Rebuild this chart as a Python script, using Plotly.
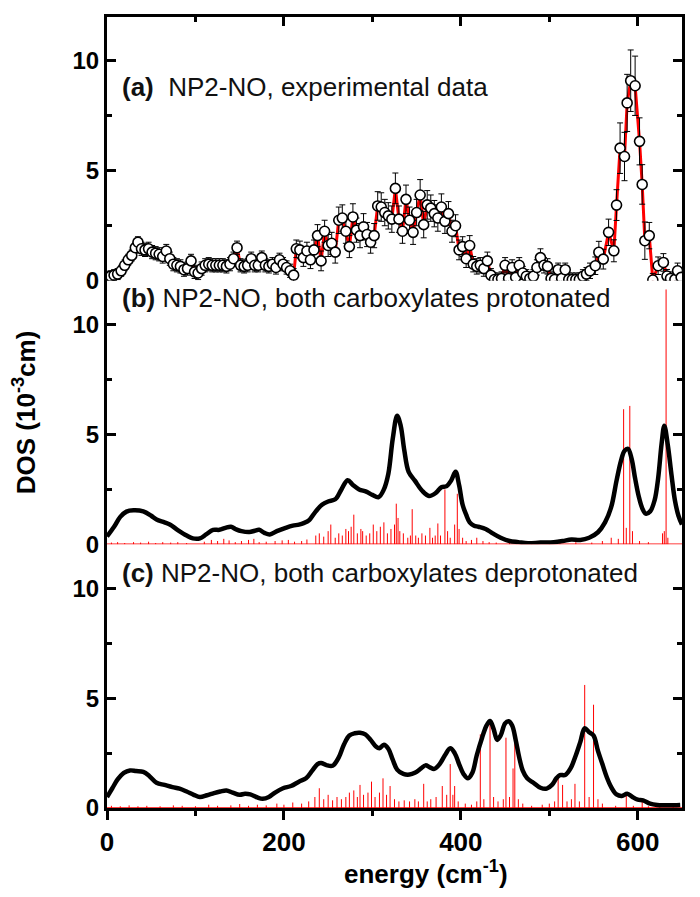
import plotly.graph_objects as go

# ---------------- data ----------------
# (a) experimental NRVS DOS
E_a = [0, 4, 8, 12, 16, 20, 24, 28, 32, 35,
       39, 43, 47, 51, 55, 59, 63, 67, 71, 75,
       79, 83, 87, 91, 95, 99, 103, 107, 111, 115,
       119, 123, 127, 131, 135, 139, 143, 147, 151, 155,
       159, 163, 167, 171, 175, 179, 183, 187, 191, 195,
       199, 203, 207, 211, 214, 218, 222, 226, 230, 234,
       238, 242, 246, 250, 254, 258, 262, 266, 270, 274,
       278, 282, 286, 290, 294, 298, 302, 306, 310, 314,
       318, 322, 326, 330, 334, 338, 342, 346, 350, 354,
       358, 362, 366, 370, 374, 378, 382, 386, 390, 394,
       398, 402, 406, 410, 414, 418, 422, 426, 430, 434,
       438, 442, 446, 450, 454, 458, 462, 466, 470, 474,
       478, 482, 486, 490, 494, 498, 502, 506, 510, 514,
       518, 522, 526, 530, 534, 538, 542, 546, 552, 556,
       561, 567, 573, 576, 580, 585, 588, 592, 597, 602,
       605, 608, 613, 617, 623, 629, 633, 637, 642, 645,
       649]
dos_a = [0.15, 0.2, 0.25, 0.3, 0.45, 0.7, 0.95, 1.15, 1.5, 1.75,
         1.45, 1.4, 1.45, 1.3, 1.25, 1.2, 1.1, 1.35, 1.0, 0.75,
         0.7, 0.65, 0.5, 0.55, 0.9, 0.4, 0.35, 0.55, 0.7, 0.75,
         0.7, 0.7, 0.7, 0.7, 0.65, 0.75, 1.0, 1.5, 0.7, 0.65,
         0.7, 1.0, 0.7, 0.7, 1.05, 0.7, 0.65, 0.75, 0.6, 0.95,
         0.75, 0.6, 0.45, 0.25, 1.45, 1.4, 1.05, 1.35, 0.95, 1.4,
         2.05, 0.9, 2.25, 1.6, 1.7, 1.3, 2.75, 2.85, 2.25, 1.55,
         2.9, 2.3, 2.05, 2.45, 2.1, 1.75, 2.05, 3.4, 3.35, 3.1,
         2.95, 2.8, 4.2, 2.8, 2.25, 3.7, 2.75, 2.2, 3.1, 3.9,
         2.55, 3.45, 3.3, 3.05, 2.85, 3.35, 2.7, 3.05, 2.25, 2.5,
         1.4, 1.55, 1.0, 1.6, 0.75, 0.65, 0.7, 0.55, 0.9, 0.25,
         0.05, 0.05, 0.1, 0.7, 0.1, 0.6, 0.15, 0.7, 0.35, 0.2,
         0.1, 0.2, 0.6, 1.05, 0.7, 0.65, 0.1, 0.05, 0.5, 0.1,
         0.5, 0.05, 0.05, 0.05, 0.05, 0.2, 0.3, 0.45, 0.68, 1.29,
         0.98, 2.2, 1.36, 3.44, 6.03, 5.65, 8.09, 9.1, 8.87, 6.34,
         4.38, 1.82, 2.05, 0.03, 0.68, 0.83, 0.21, 0.1, 0.06, 0.45,
         0.15]
err_a = [0.25, 0.25, 0.25, 0.25, 0.25, 0.25, 0.25, 0.25, 0.25, 0.25,
         0.3, 0.3, 0.3, 0.3, 0.3, 0.3, 0.3, 0.3, 0.3, 0.3,
         0.3, 0.3, 0.3, 0.3, 0.3, 0.3, 0.3, 0.3, 0.3, 0.3,
         0.3, 0.3, 0.3, 0.3, 0.3, 0.3, 0.3, 0.3, 0.3, 0.3,
         0.3, 0.3, 0.3, 0.3, 0.3, 0.3, 0.3, 0.3, 0.3, 0.3,
         0.3, 0.3, 0.3, 0.3, 0.4, 0.4, 0.4, 0.4, 0.4, 0.45,
         0.5, 0.45, 0.5, 0.5, 0.5, 0.5, 0.6, 0.6, 0.55, 0.5,
         0.6, 0.55, 0.55, 0.6, 0.55, 0.5, 0.55, 0.65, 0.65, 0.6,
         0.6, 0.6, 0.7, 0.6, 0.55, 0.65, 0.6, 0.55, 0.6, 0.7,
         0.6, 0.65, 0.6, 0.6, 0.6, 0.6, 0.55, 0.55, 0.5, 0.5,
         0.45, 0.45, 0.4, 0.45, 0.35, 0.35, 0.35, 0.35, 0.4, 0.3,
         0.3, 0.3, 0.3, 0.35, 0.3, 0.35, 0.3, 0.35, 0.3, 0.3,
         0.3, 0.3, 0.35, 0.4, 0.35, 0.35, 0.3, 0.3, 0.3, 0.3,
         0.3, 0.3, 0.3, 0.3, 0.3, 0.3, 0.3, 0.35, 0.4, 0.5,
         0.45, 0.6, 0.5, 0.7, 1.15, 1.1, 1.3, 1.4, 1.35, 1.07,
         0.9, 0.85, 0.6, 0.3, 0.4, 0.4, 0.3, 0.3, 0.3, 0.35,
         0.3]

# (b) calculated DOS, both carboxylates protonated
E_b = [0, 8, 15, 22, 30, 41, 50, 56, 65, 71, 80, 90, 97, 105, 112, 120, 127, 134,
       140, 146, 152, 161, 167, 172, 178, 184, 192, 202, 210, 217, 223, 228, 236,
       243, 250, 258, 265, 272, 278, 285, 293, 300, 307, 313, 318, 323, 328, 332,
       336, 341, 348, 356, 364, 372, 378, 384, 389, 394, 398, 402, 406, 410, 415,
       420, 428, 436, 445, 455, 465, 476, 490, 505, 515, 525, 535, 545, 555, 563,
       570, 576, 581, 585, 589, 593, 597, 601, 605, 609, 614, 619, 623, 627, 630,
       634, 638, 642, 646, 650]
dos_b = [0.36, 0.8, 1.25, 1.49, 1.55, 1.5, 1.3, 1.13, 1.0, 0.9, 0.65, 0.4, 0.27,
         0.27, 0.45, 0.66, 0.66, 0.75, 0.8, 0.68, 0.6, 0.56, 0.62, 0.66, 0.52,
         0.45, 0.6, 0.75, 0.85, 0.9, 0.98, 1.08, 1.5, 1.8, 1.95, 2.05, 2.5, 2.92,
         2.7, 2.5, 2.4, 2.25, 2.15, 2.5, 3.2, 4.8, 5.85, 5.4, 4.3, 3.3, 2.9, 2.45,
         2.2, 2.35, 2.6, 2.65, 2.9, 3.3, 2.7, 1.8, 1.35, 1.0, 0.85, 0.8, 0.7, 0.5,
         0.3, 0.15, 0.1, 0.05, 0.08, 0.1, 0.15, 0.22, 0.2, 0.3, 0.55, 1.0, 1.7,
         2.9, 3.8, 4.25, 4.35, 3.9, 3.0, 2.2, 1.65, 1.4, 1.5, 2.0, 3.0, 4.6, 5.4,
         4.5, 3.2, 2.0, 1.3, 0.9]
stick_E_b = [5, 12, 20, 30, 38, 47, 55, 63, 72, 80, 90, 110, 118, 125, 132, 138,
             145, 152, 160, 166, 172, 180, 190, 198, 205, 212, 220, 226,
             236, 240, 245, 250, 253, 258, 262, 266, 270, 273, 276, 279, 283,
             287, 289, 293, 297, 301, 305, 309, 313, 317, 321, 325, 327, 329,
             331, 335, 340, 343, 345, 349, 352, 356, 360, 365, 368, 371, 374,
             377, 382, 385, 388, 393, 396, 398, 402, 406, 412, 418, 425, 432,
             440, 455, 468, 480, 500, 512, 530, 548, 560, 570,
             578, 584, 587, 591, 594, 602, 612, 628, 630, 632, 634]
stick_h_b = [0.08, 0.1, 0.06, 0.1, 0.08, 0.12, 0.06, 0.1, 0.08, 0.1, 0.06, 0.12,
             0.2, 0.15, 0.25, 0.18, 0.1, 0.15, 0.2, 0.25, 0.1, 0.12, 0.15, 0.18,
             0.2, 0.12, 0.15, 0.22,
             0.4, 0.5, 0.35, 0.6, 0.9, 0.3, 0.5, 0.4, 0.7, 0.6, 0.8, 1.35, 0.5,
             0.7, 0.6, 0.4, 0.5, 0.9, 0.6, 0.8, 1.0, 0.5, 0.7, 0.9, 1.85, 1.2,
             0.6, 0.5, 0.3, 0.4, 1.6, 0.4, 0.3, 0.5, 0.4, 0.75, 0.3, 0.4, 0.95,
             0.4, 2.5, 0.6, 0.3, 0.9, 2.3, 0.7, 0.3, 0.15, 0.2, 0.3, 0.15, 0.1,
             0.08, 0.1, 0.06, 0.1, 0.08, 0.06, 0.1, 0.08, 0.15, 0.3,
             0.25, 6.15, 0.75, 6.3, 0.6, 0.15, 0.1, 0.5, 0.6, 11.6, 0.3]

# (c) calculated DOS, both carboxylates deprotonated
E_c = [0, 6, 12, 19, 26, 33, 41, 48, 56, 65, 74, 82, 90, 98, 105, 113, 121, 128,
       135, 142, 150, 156, 162, 170, 176, 183, 190, 199, 208, 217, 225, 232, 238,
       242, 248, 255, 262, 268, 274, 280, 286, 292, 298, 304, 308, 313, 318, 323,
       328, 335, 342, 348, 355, 360, 365, 370, 376, 382, 388, 393, 398, 403, 408,
       413, 418, 424, 429, 433, 437, 441, 445, 450, 454, 458, 462, 466, 470, 475,
       482, 490, 497, 503, 508, 512, 518, 524, 530, 535, 540, 545, 550, 555, 560,
       565, 570, 576, 582, 588, 594, 600, 606, 614, 622, 635, 648]
dos_c = [0.5, 0.9, 1.3, 1.6, 1.71, 1.68, 1.64, 1.45, 1.15, 1.05, 0.95, 0.88, 0.75,
         0.6, 0.5, 0.58, 0.68, 0.75, 0.8, 0.7, 0.6, 0.65, 0.62, 0.48, 0.42, 0.5,
         0.7, 0.9, 1.0, 1.2, 1.35, 1.7, 2.0, 2.05, 1.95, 1.92, 2.3, 2.9, 3.3, 3.4,
         3.42, 3.35, 3.1, 2.8, 2.72, 2.88, 2.7, 2.2, 1.75, 1.55, 1.52, 1.6, 1.8,
         1.94, 1.85, 1.78, 2.0, 2.4, 2.72, 2.5, 2.0, 1.55, 1.35, 1.6, 2.4, 3.2,
         3.75, 3.96, 3.6, 3.1, 3.3, 3.85, 3.95, 3.75, 3.1, 2.3, 1.7, 1.35, 1.15,
         0.92, 0.88, 1.05, 1.35, 1.5, 1.5, 1.8, 2.4, 3.0, 3.63, 3.45, 3.3, 2.6,
         2.0, 1.4, 0.95, 0.62, 0.55, 0.65, 0.5, 0.38, 0.35, 0.2, 0.14, 0.12, 0.14]
stick_E_c = [5, 15, 25, 35, 45, 60, 75, 85, 100, 115, 125, 140, 150, 160, 170,
             180, 192, 200, 210, 220, 228,
             235, 240, 245, 250, 255, 260, 265, 270, 274, 279, 283, 286, 290,
             295, 299, 303, 308, 312, 316, 320, 325, 330, 336, 342, 348, 352,
             358, 362, 366, 372, 379, 384, 388, 391, 393, 397, 405, 412,
             418, 422, 426, 433, 437, 442, 448, 451, 455, 459, 461, 465, 470,
             480, 492, 500, 506, 510, 515, 520, 525, 529, 534, 540, 545, 550,
             555, 560, 575, 587, 595, 605, 612, 625, 640]
stick_h_c = [0.1, 0.08, 0.12, 0.08, 0.1, 0.08, 0.12, 0.1, 0.08, 0.15, 0.1, 0.12,
             0.18, 0.1, 0.15, 0.12, 0.2, 0.15, 0.25, 0.2, 0.3,
             0.5, 0.9, 0.4, 0.6, 0.35, 0.5, 0.4, 0.5, 0.7, 0.8, 0.5, 1.05, 0.6,
             0.7, 1.2, 0.5, 0.7, 1.35, 0.6, 1.0, 0.4, 0.3, 0.35, 0.3, 0.4, 0.3,
             1.1, 0.3, 0.4, 0.5, 1.0, 0.6, 2.0, 0.6, 1.0, 0.3, 0.2, 0.15,
             0.3, 3.35, 0.4, 3.9, 0.5, 0.3, 0.4, 3.2, 0.5, 1.8, 3.5, 0.4, 0.2,
             0.1, 0.15, 0.2, 0.3, 1.5, 1.05, 0.3, 0.4, 1.1, 0.3, 5.6, 0.5, 4.7,
             0.4, 0.2, 0.1, 0.6, 0.1, 0.3, 0.08, 0.1, 0.05]

x_range = [0, 650]
y_range = [0, 12]
panel_titles = ["<b>(a)</b>&nbsp; NP2-NO, experimental data",
                "<b>(b)</b> NP2-NO, both carboxylates protonated",
                "<b>(c)</b> NP2-NO, both carboxylates deprotonated"]

assert len(E_a) == len(dos_a) == len(err_a)
assert len(E_b) == len(dos_b) and len(stick_E_b) == len(stick_h_b)
assert len(E_c) == len(dos_c) and len(stick_E_c) == len(stick_h_c)


def sticks(es, hs):
    xs, ys = [], []
    for e, h in zip(es, hs):
        xs += [e, e, None]
        ys += [0, h, None]
    return xs, ys


FONT = "Arial, 'Liberation Sans', sans-serif"
RED = "#ff0000"

fig = go.Figure()

# panel (a)
fig.add_trace(go.Scatter(x=E_a, y=dos_a, mode="lines",
                         line=dict(color=RED, width=3), xaxis="x", yaxis="y",
                         showlegend=False, hoverinfo="skip"))
fig.add_trace(go.Scatter(x=E_a, y=dos_a, mode="markers",
                         marker=dict(symbol="circle", size=10, color="white",
                                     line=dict(color="black", width=1.6)),
                         error_y=dict(type="data", array=err_a, color="black",
                                      thickness=1, width=3),
                         xaxis="x", yaxis="y", showlegend=False))

# panel (b)
sx, sy = sticks(stick_E_b, stick_h_b)
fig.add_trace(go.Scatter(x=sx, y=sy, mode="lines", line=dict(color=RED, width=1),
                         xaxis="x2", yaxis="y2", showlegend=False, hoverinfo="skip"))
fig.add_trace(go.Scatter(x=E_b, y=dos_b, mode="lines", line_shape="spline",
                         line=dict(color="black", width=4.5),
                         xaxis="x2", yaxis="y2", showlegend=False))

# panel (c)
sx, sy = sticks(stick_E_c, stick_h_c)
fig.add_trace(go.Scatter(x=sx, y=sy, mode="lines", line=dict(color=RED, width=1),
                         xaxis="x3", yaxis="y3", showlegend=False, hoverinfo="skip"))
fig.add_trace(go.Scatter(x=E_c, y=dos_c, mode="lines", line_shape="spline",
                         line=dict(color="black", width=4.5),
                         xaxis="x3", yaxis="y3", showlegend=False))

yax = dict(range=y_range, showline=True, linewidth=3, linecolor="black",
           mirror="ticks", ticks="inside", ticklen=9, tickwidth=2.5,
           tickcolor="black", tickvals=[0, 5, 10],
           minor=dict(tickvals=[2.5, 7.5], ticks="inside", ticklen=5,
                      tickwidth=2.5, tickcolor="black"),
           showgrid=False, zeroline=False,
           tickfont=dict(family=FONT, size=24, color="black", weight="bold"))

xax_common = dict(range=x_range, showgrid=False, zeroline=False)

# The page body has an 8 px margin, so the figure is sized to fit the window.
fig.update_layout(
    width=684, height=881,
    margin=dict(l=99, r=7, t=9, b=81),
    paper_bgcolor="white", plot_bgcolor="white",
    xaxis=dict(**xax_common, anchor="y", side="top", showline=True, linewidth=3,
               linecolor="black", ticks="inside", ticklen=9, tickwidth=2.5,
               tickcolor="black", dtick=200, tick0=0, showticklabels=False,
               minor=dict(dtick=100, ticks="inside", ticklen=5, tickwidth=2.5,
                          tickcolor="black")),
    xaxis2=dict(**xax_common, anchor="y2", matches="x", visible=False),
    xaxis3=dict(**xax_common, anchor="y3", matches="x", showline=True, linewidth=3,
                linecolor="black", ticks="outside", ticklen=9, tickwidth=2.5,
                tickcolor="black", dtick=200, tick0=0,
                minor=dict(dtick=100, ticks="outside", ticklen=5, tickwidth=2.5,
                           tickcolor="black"),
                tickfont=dict(family=FONT, size=26, color="black", weight="bold")),
    yaxis=dict(**yax, domain=[2 / 3, 1], anchor="x"),
    yaxis2=dict(**yax, domain=[1 / 3, 2 / 3], anchor="x2"),
    yaxis3=dict(**yax, domain=[0, 1 / 3], anchor="x3"),
    font=dict(family=FONT, color="black"),
)

# red baselines of the stick spectra
for yr in ["y2", "y3"]:
    fig.add_shape(type="line", xref=yr.replace("y", "x") + " domain", yref=yr,
                  x0=0, x1=1, y0=0, y1=0, line=dict(color=RED, width=1.5),
                  layer="below")

for title, ypos in zip(panel_titles, [0.911, 0.645, 0.297]):
    fig.add_annotation(text=title, xref="paper", yref="paper", x=0.022, y=ypos,
                       xanchor="left", yanchor="middle", showarrow=False,
                       font=dict(family=FONT, size=26, color="#111111"))

fig.add_annotation(text="<b>DOS (10<sup>-3</sup>cm)</b>", xref="paper",
                   yref="paper", x=-0.143, y=0.5, textangle=-90,
                   xanchor="center", yanchor="middle", showarrow=False,
                   font=dict(family=FONT, size=26, color="black"))
fig.add_annotation(text="<b>energy (cm<sup>-1</sup>)</b>", xref="paper",
                   yref="paper", x=0.555, y=-0.081, xanchor="center",
                   yanchor="middle", showarrow=False,
                   font=dict(family=FONT, size=26, color="black"))

fig.write_html("out.html")
